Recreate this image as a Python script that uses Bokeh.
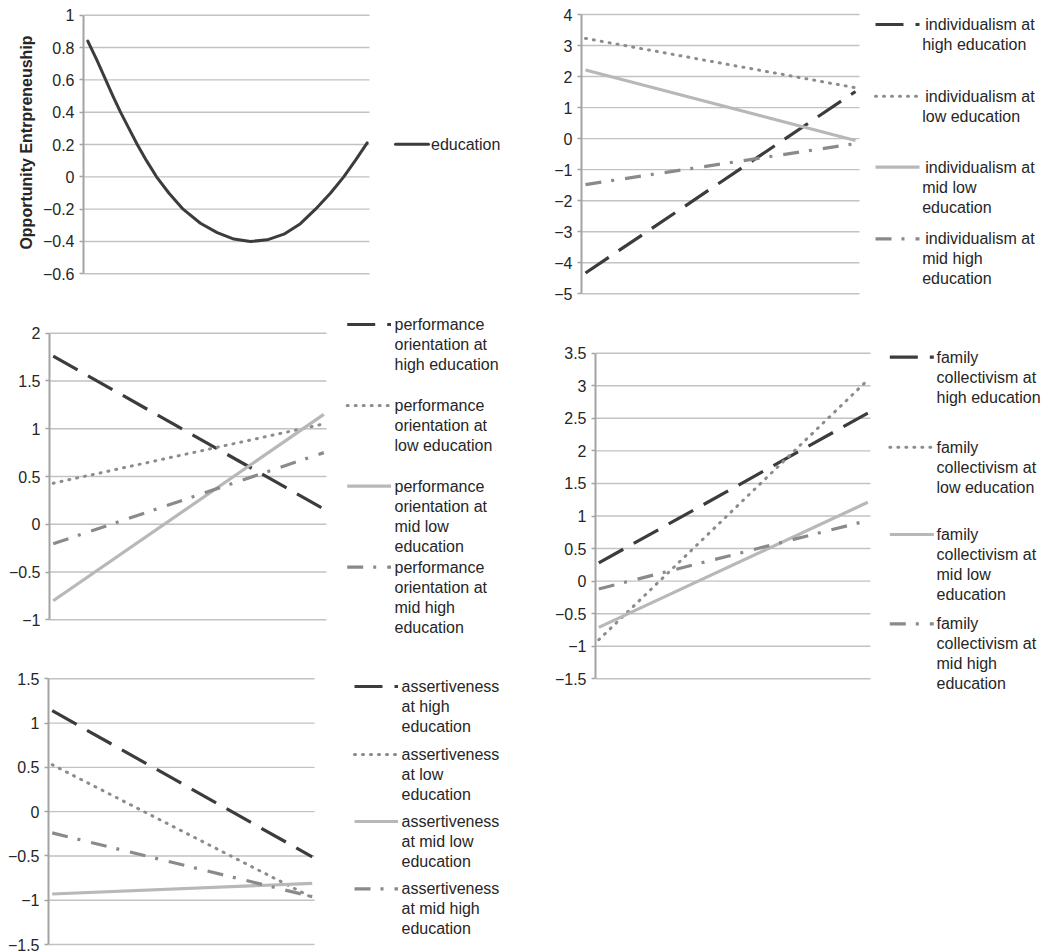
from bokeh.plotting import figure
from bokeh.layouts import row, column
from bokeh.models import Range1d, FixedTicker, CustomJSTickFormatter
from bokeh.core.properties import value
from bokeh.embed import file_html
from bokeh.resources import INLINE

# ---------------- data ----------------
edu_x = [0.0, 0.033, 0.090, 0.117, 0.147, 0.177, 0.210, 0.246, 0.290, 0.341, 0.403,
         0.463, 0.523, 0.582, 0.642, 0.702, 0.761, 0.815, 0.869, 0.916, 0.959, 1.0]
edu_y = [0.84, 0.72, 0.50, 0.40, 0.30, 0.20, 0.10, 0.00, -0.10, -0.20, -0.287,
         -0.345, -0.385, -0.40, -0.39, -0.355, -0.29, -0.20, -0.10, 0.00, 0.105, 0.21]

cat_x = [0, 1]   # low -> high end of the moderator axis

indiv_high = [-4.33, 1.52]
indiv_low = [3.23, 1.64]
indiv_midlow = [2.21, -0.06]
indiv_midhigh = [-1.48, -0.16]

perf_high = [1.76, 0.16]
perf_low = [0.43, 1.05]
perf_midlow = [-0.80, 1.15]
perf_midhigh = [-0.205, 0.75]

fam_high = [0.28, 2.58]
fam_low = [-0.90, 3.09]
fam_midlow = [-0.71, 1.21]
fam_midhigh = [-0.12, 0.93]

asrt_high = [1.14, -0.51]
asrt_low = [0.53, -0.97]
asrt_midlow = [-0.93, -0.81]
asrt_midhigh = [-0.24, -0.96]

ticks_edu = [1, 0.8, 0.6, 0.4, 0.2, 0, -0.2, -0.4, -0.6]
ticks_indiv = [4, 3, 2, 1, 0, -1, -2, -3, -4, -5]
ticks_perf = [2, 1.5, 1, 0.5, 0, -0.5, -1]
ticks_fam = [3.5, 3, 2.5, 2, 1.5, 1, 0.5, 0, -0.5, -1, -1.5]
ticks_asrt = [1.5, 1, 0.5, 0, -0.5, -1, -1.5]

y_title = "Opportunity Entrpreneuship"
lab_edu = [["education"]]
lab_indiv = [["individualism at", "high education"],
             ["individualism at", "low education"],
             ["individualism at", "mid low", "education"],
             ["individualism at", "mid high", "education"]]
lab_perf = [["performance", "orientation at", "high education"],
            ["performance", "orientation at", "low education"],
            ["performance", "orientation at", "mid low", "education"],
            ["performance", "orientation at", "mid high", "education"]]
lab_fam = [["family", "collectivism at", "high education"],
           ["family", "collectivism at", "low education"],
           ["family", "collectivism at", "mid low", "education"],
           ["family", "collectivism at", "mid high", "education"]]
lab_asrt = [["assertiveness", "at high", "education"],
            ["assertiveness", "at low", "education"],
            ["assertiveness", "at mid low", "education"],
            ["assertiveness", "at mid high", "education"]]

# ---------------- styles ----------------
FONT = "Liberation Sans"
TXT = "#262626"
STY = {
    "edu": dict(line_color="#3c3c3c", line_width=3, line_dash="solid", line_cap="round",
                line_join="round"),
    "high": dict(line_color="#3c3c3c", line_width=3.2, line_dash="28 12", line_cap="butt"),
    "low": dict(line_color="#8c8c8c", line_width=3, line_dash="1 7", line_cap="round"),
    "midlow": dict(line_color="#b8b8b8", line_width=3.2, line_dash="solid", line_cap="butt"),
    "midhigh": dict(line_color="#8a8a8a", line_width=3.2, line_dash="16 10 3 11", line_cap="butt"),
}


def panel(fx, fy, W, H, FL, PR, X0, X1, Ytop, Ybot, ticks, series, labels,
          leg_x0, leg_x1, leg_tx, leg_y, leg_dy, first_dx=0, title=None):
    vmax, vmin = max(ticks), min(ticks)
    sx = X1 - X0
    sy = (Ybot - Ytop) / (vmax - vmin)
    px2x = lambda px: (px - X0) / sx
    py2y = lambda py: vmax - (py - Ytop) / sy
    xs, xe = px2x(FL), px2x(fx + W)
    ys, ye = py2y(fy + H), py2y(fy)
    p = figure(width=W, height=H, x_range=Range1d(xs, xe), y_range=Range1d(ys, ye),
               output_backend="svg", toolbar_location=None, x_axis_location=None,
               min_border_left=FL - fx, min_border_right=0, min_border_top=0,
               min_border_bottom=0, frame_align=False)
    p.outline_line_color = None
    p.grid.visible = False
    ax = p.yaxis[0]
    ax.ticker = FixedTicker(ticks=ticks)
    ax.formatter = CustomJSTickFormatter(code="return String(tick).replace('-', '\u2212');")
    ax.bounds = (vmin, vmax)
    ax.axis_line_color = "#a3a3a3"
    ax.axis_line_width = 2
    ax.major_tick_line_color = "#a3a3a3"
    ax.major_tick_line_width = 1.5
    ax.major_tick_out = 4
    ax.major_tick_in = 0
    ax.minor_tick_line_color = None
    ax.major_label_standoff = 5
    ax.major_label_text_font = FONT
    ax.major_label_text_font_size = "16px"
    ax.major_label_text_color = TXT
    if title:
        ax.axis_label = title
        ax.axis_label_text_font = FONT
        ax.axis_label_text_font_size = "16px"
        ax.axis_label_text_font_style = "bold"
        ax.axis_label_text_color = TXT
        ax.axis_label_standoff = 5
    # horizontal gridlines across the plot area
    n = len(ticks)
    p.segment(x0=[xs] * n, y0=ticks, x1=[px2x(PR)] * n, y1=ticks,
              line_color="#c2c2c2", line_width=1.4)
    # series
    for (sx_data, sy_data, key) in series:
        p.line(sx_data, sy_data, **STY[key])
    # legend
    for i, ((_, _, key), lines) in enumerate(zip(series, labels)):
        ly = leg_y[i]
        p.line([px2x(leg_x0), px2x(leg_x1)], [py2y(ly), py2y(ly)], **STY[key])
        tx = [px2x(leg_tx + (first_dx if k == 0 else 0)) for k in range(len(lines))]
        ty = [py2y(ly + k * leg_dy) for k in range(len(lines))]
        p.text(tx, ty, text=lines, text_font=value(FONT), text_font_size="16px",
               text_baseline="middle", text_align="left", text_color=TXT)
    return p


p1 = panel(0, 0, 530, 284, 83, 369, 87.3, 366.7, 14.7, 273.3, ticks_edu,
           [(edu_x, edu_y, "edu")], lab_edu,
           395, 428, 430.5, [143.7], 20, title=y_title)

p3 = panel(0, 284, 530, 366, 49, 326, 52.7, 323.3, 332.7, 619.3, ticks_perf,
           [(cat_x, perf_high, "high"), (cat_x, perf_low, "low"),
            (cat_x, perf_midlow, "midlow"), (cat_x, perf_midhigh, "midhigh")],
           lab_perf, 346.7, 390.5, 394, [324, 405, 485.7, 566.7], 20)

p5 = panel(0, 650, 530, 302, 48, 314, 51.7, 311.7, 678.3, 944, ticks_asrt,
           [(cat_x, asrt_high, "high"), (cat_x, asrt_low, "low"),
            (cat_x, asrt_midlow, "midlow"), (cat_x, asrt_midhigh, "midhigh")],
           lab_asrt, 354, 397.5, 401, [686, 754, 821, 888.3], 20)

p2 = panel(530, 0, 531, 310, 581, 859, 585, 855, 14, 293.3, ticks_indiv,
           [(cat_x, indiv_high, "high"), (cat_x, indiv_low, "low"),
            (cat_x, indiv_midlow, "midlow"), (cat_x, indiv_midhigh, "midhigh")],
           lab_indiv, 875, 919, 921.7, [24, 95.7, 166.7, 238.3], 20, first_dx=3)

p4 = panel(530, 310, 531, 390, 595, 870, 598.3, 867.3, 352.7, 678.3, ticks_fam,
           [(cat_x, fam_high, "high"), (cat_x, fam_low, "low"),
            (cat_x, fam_midlow, "midlow"), (cat_x, fam_midhigh, "midhigh")],
           lab_fam, 889.3, 933.3, 936, [356.7, 446.7, 534, 623.3], 20)

layout = row(column(p1, p3, p5), column(p2, p4))
open("out.html", "w").write(file_html(layout, INLINE))
